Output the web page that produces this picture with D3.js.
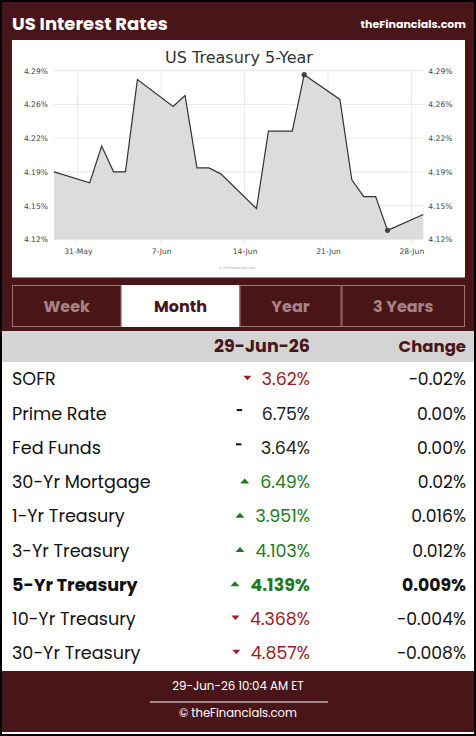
<!DOCTYPE html>
<html><head><meta charset="utf-8">
<script src="https://cdn.jsdelivr.net/npm/d3@7"></script>
<style>html,body{margin:0;padding:0;background:#fff;}svg{display:block;}</style>
</head><body>
<svg id="c" width="476" height="736"></svg>
<script>
// ---------- DATA ----------
const pageTitle = "US Interest Rates";
const siteName = "theFinancials.com";
const chartTitle = "US Treasury 5-Year";
const dates = ["2026-05-29","2026-06-01","2026-06-02","2026-06-03","2026-06-04","2026-06-05",
  "2026-06-08","2026-06-09","2026-06-10","2026-06-11","2026-06-12",
  "2026-06-15","2026-06-16","2026-06-17","2026-06-18","2026-06-19",
  "2026-06-22","2026-06-23","2026-06-24","2026-06-25","2026-06-26","2026-06-29"];
const values = [4.188,4.177,4.214,4.188,4.188,4.281,
  4.254,4.265,4.192,4.192,4.186,
  4.151,4.229,4.229,4.229,4.286,
  4.261,4.180,4.163,4.163,4.129,4.145];
const yTickValues = [4.12,4.154,4.188,4.222,4.256,4.29];
const xTickDates = ["2026-05-31","2026-06-07","2026-06-14","2026-06-21","2026-06-28"];
const xDomain = ["2026-05-29","2026-06-29"];
const tabs = ["Week","Month","Year","3 Years"];
const activeTab = "Month";
const dateHeader = "29-Jun-26";
const changeHeader = "Change";
const rateNames = ["SOFR","Prime Rate","Fed Funds","30-Yr Mortgage","1-Yr Treasury","3-Yr Treasury","5-Yr Treasury","10-Yr Treasury","30-Yr Treasury"];
const rateValues = ["3.62%","6.75%","3.64%","6.49%","3.951%","4.103%","4.139%","4.368%","4.857%"];
const rateChanges = ["-0.02%","0.00%","0.00%","0.02%","0.016%","0.012%","0.009%","-0.004%","-0.008%"];
const rateDirections = ["down","flat","flat","up","up","up","up","down","down"];
const highlightRate = "5-Yr Treasury";
const footerTime = "29-Jun-26 10:04 AM ET";
const footerCopy = "© theFinancials.com";

// ---------- STYLE ----------
const MAROON = "#4a1518";
const uiFont = "Poppins, Inter, 'Open Sans', sans-serif";
const chartFont = "'DejaVu Sans', Verdana, sans-serif";

const svg = d3.select("#c");
const parse = d3.timeParse("%Y-%m-%d");

// frame
svg.append("rect").attr("x",0).attr("y",0).attr("width",476).attr("height",736).attr("fill","#000");
svg.append("rect").attr("x",2).attr("y",2).attr("width",472).attr("height",732).attr("fill","#fff");
svg.append("rect").attr("x",2).attr("y",2).attr("width",472).attr("height",329).attr("fill",MAROON);
svg.append("rect").attr("x",2).attr("y",331).attr("width",472).attr("height",31).attr("fill","#d4d4d4");
svg.append("rect").attr("x",2).attr("y",671).attr("width",472).attr("height",61).attr("fill",MAROON);

// header
svg.append("text").attr("x",12).attr("y",30).text(pageTitle)
  .attr("font-family",uiFont).attr("font-weight",700).attr("font-size",18).attr("fill","#fff");
svg.append("text").attr("x",466).attr("y",28).attr("text-anchor","end").text(siteName)
  .attr("font-family",uiFont).attr("font-weight",700).attr("font-size",11).attr("fill","#fff");

// chart panel
svg.append("rect").attr("x",12).attr("y",40).attr("width",453).attr("height",237.5).attr("fill","#fff");
svg.append("text").attr("x",239).attr("y",62.5).attr("text-anchor","middle").text(chartTitle)
  .attr("font-family",chartFont).attr("font-size",16).attr("fill","#333");

const x = d3.scaleTime().domain(xDomain.map(parse)).range([54,423.3]);
const y = d3.scaleLinear().domain([4.12,4.29]).range([239.3,70.7]);
const data = dates.map((d,i)=>({date:parse(d), v:values[i]}));
const fmtY = v => d3.format(".2f")(v) + "%";
const fmtX = d3.timeFormat("%-d-%b");

const g = svg.append("g");
// horizontal gridlines
g.selectAll("line.hg").data(yTickValues).join("line")
  .attr("x1",54).attr("x2",423.3).attr("y1",d=>y(d)).attr("y2",d=>y(d))
  .attr("stroke","#e8e8e8").attr("stroke-width",1);
// vertical gridlines
const xt = xTickDates.map(parse);
g.selectAll("line.vg").data(xt).join("line")
  .attr("x1",d=>x(d)).attr("x2",d=>x(d)).attr("y1",70.7).attr("y2",243.5)
  .attr("stroke","#e8e8e8").attr("stroke-width",1);

// area + line
const area = d3.area().x(d=>x(d.date)).y0(y(4.12)).y1(d=>y(d.v));
const line = d3.line().x(d=>x(d.date)).y(d=>y(d.v));
g.append("path").datum(data).attr("d",area).attr("fill","#dcdcdc");
g.append("path").datum(data).attr("d",line).attr("fill","none").attr("stroke","#333").attr("stroke-width",1.2);

// markers
const maxD = data.reduce((a,b)=>b.v>a.v?b:a);
const minD = data.reduce((a,b)=>b.v<a.v?b:a);
g.selectAll("circle.m").data([maxD,minD]).join("circle")
  .attr("cx",d=>x(d.date)).attr("cy",d=>y(d.v)).attr("r",2.6).attr("fill","#444");

// axes labels
const yl = d3.axisLeft(y).tickValues(yTickValues).tickFormat(fmtY).tickSize(0).tickPadding(6);
const yr = d3.axisRight(y).tickValues(yTickValues).tickFormat(fmtY).tickSize(0).tickPadding(5);
const xa = d3.axisBottom(x).tickValues(xt).tickFormat(fmtX).tickSize(0).tickPadding(9);
function styleAxis(sel){
  sel.select(".domain").remove();
  sel.selectAll("text").attr("font-family",chartFont).attr("font-size",7.6).attr("fill","#444");
}
svg.append("g").attr("transform","translate(54,0)").call(yl).call(styleAxis);
svg.append("g").attr("transform","translate(423.3,0)").call(yr).call(styleAxis);
svg.append("g").attr("transform","translate(0,239.3)").call(xa).call(styleAxis);

svg.append("text").attr("x",237).attr("y",269).attr("text-anchor","middle").text("© theFinancials.com")
  .attr("font-family",chartFont).attr("font-size",3.6).attr("fill","#aaa");

// tabs
const tabX = d3.scaleOrdinal().domain(tabs).range([12,121.5,239.5,341.5]);
const tabW = {"Week":109.5,"Month":118,"Year":102,"3 Years":123.5};
const tg = svg.selectAll("g.tab").data(tabs).join("g");
tg.append("rect").attr("x",d=>tabX(d)+0.5).attr("y",285.5).attr("width",d=>tabW[d]-1).attr("height",41)
  .attr("fill",d=>d===activeTab?"#fff":MAROON)
  .attr("stroke",d=>d===activeTab?"#fff":"#9d7375").attr("stroke-width",1);
tg.append("text").attr("x",d=>tabX(d)+tabW[d]/2).attr("y",311.5).attr("text-anchor","middle").text(d=>d)
  .attr("font-family",uiFont).attr("font-weight",700).attr("font-size",16)
  .attr("fill",d=>d===activeTab?MAROON:"#a88487");

// table header
svg.append("text").attr("x",310).attr("y",352).attr("text-anchor","end").text(dateHeader)
  .attr("font-family",uiFont).attr("font-weight",700).attr("font-size",17.5).attr("fill",MAROON);
svg.append("text").attr("x",466).attr("y",352).attr("text-anchor","end").text(changeHeader)
  .attr("font-family",uiFont).attr("font-weight",700).attr("font-size",16.5).attr("fill",MAROON);

// rows
const rowY = d3.scaleLinear().domain([0,8]).range([379.3,653.3]);
const colorFor = d => d==="up" ? "#1f7a1f" : d==="down" ? "#9a1c1c" : "#222";
const rows = svg.selectAll("g.row").data(rateNames.map((n,i)=>({n, v:rateValues[i], c:rateChanges[i], d:rateDirections[i], i})))
  .join("g").attr("transform",r=>`translate(0,${rowY(r.i)})`);
rows.append("text").attr("x",12).attr("y",6).text(r=>r.n)
  .attr("font-family",uiFont).attr("font-size",17.6).attr("fill","#111")
  .attr("font-weight",r=>r.n===highlightRate?700:400);
const valTexts = rows.append("text").attr("x",310).attr("y",6).attr("text-anchor","end").text(r=>r.v)
  .attr("font-family",uiFont).attr("font-size",17.4).attr("fill",r=>colorFor(r.d))
  .attr("font-weight",r=>r.n===highlightRate?700:400);
rows.append("text").attr("x",466).attr("y",6).attr("text-anchor","end").text(r=>r.c.replace("-","\u2212"))
  .attr("font-family",uiFont).attr("font-size",17.2).attr("fill","#111")
  .attr("font-weight",r=>r.n===highlightRate?700:400);
// direction indicators placed just left of the value text
valTexts.each(function(r){
  const w = this.getComputedTextLength();
  const left = 310 - w;
  const grp = d3.select(this.parentNode);
  if (r.d==="up") {
    const rx = left - 11;
    grp.append("path").attr("d",`M${rx-9},1.5 L${rx},1.5 L${rx-4.5},-3.5 Z`).attr("fill","#1f7a1f");
  } else if (r.d==="down") {
    const rx = left - 10.5;
    grp.append("path").attr("d",`M${rx-8},-3.5 L${rx},-3.5 L${rx-4},1 Z`).attr("fill","#9a1c1c");
  } else {
    grp.append("rect").attr("x",left-25).attr("y",-4.5).attr("width",5.5).attr("height",2).attr("fill","#111");
  }
});

// footer
svg.append("text").attr("x",238).attr("y",690).attr("text-anchor","middle").text(footerTime)
  .attr("font-family",uiFont).attr("font-size",11.8).attr("fill","#fff");
svg.append("line").attr("x1",150).attr("x2",328).attr("y1",702).attr("y2",702).attr("stroke","#fff").attr("stroke-width",1);
svg.append("text").attr("x",238).attr("y",717).attr("text-anchor","middle").text(footerCopy)
  .attr("font-family",uiFont).attr("font-size",11.6).attr("fill","#fff");
</script>
</body></html>
